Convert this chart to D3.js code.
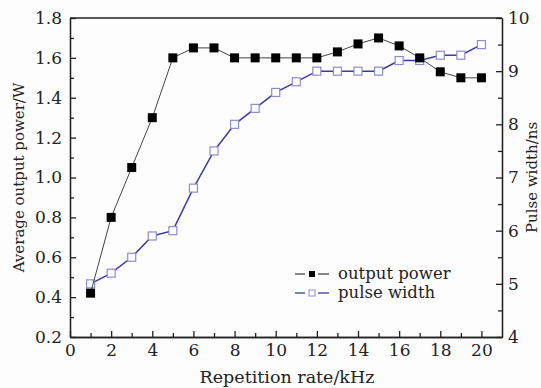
<!DOCTYPE html>
<html lang="en">

<head>
    <meta charset="UTF-8">
    <title>Repetition rate chart</title>
    <script src="https://d3js.org/d3.v7.min.js"></script>
    <style>
        body { margin: 0; background: #fdfdfd; }
        svg text { font-family: "DejaVu Serif", serif; fill: #222; }
        .axis path, .axis line { stroke: #222; stroke-width: 1.3; }
    </style>
</head>

<body>
    <svg id="chart" width="541" height="388"></svg>
    <script>
        // data
        const rate = [1, 2, 3, 4, 5, 6, 7, 8, 9, 10, 11, 12, 13, 14, 15, 16, 17, 18, 19, 20];
        const power = [0.42, 0.80, 1.05, 1.30, 1.60, 1.65, 1.65, 1.60, 1.60, 1.60, 1.60, 1.60, 1.63, 1.67, 1.70, 1.66, 1.60, 1.53, 1.50, 1.50];
        const width = [5.0, 5.2, 5.5, 5.9, 6.0, 6.8, 7.5, 8.0, 8.3, 8.6, 8.8, 9.0, 9.0, 9.0, 9.0, 9.2, 9.2, 9.3, 9.3, 9.5];
        const xTicks = [0, 2, 4, 6, 8, 10, 12, 14, 16, 18, 20];
        const leftTicks = [0.2, 0.4, 0.6, 0.8, 1.0, 1.2, 1.4, 1.6, 1.8];
        const rightTicks = [4, 5, 6, 7, 8, 9, 10];

        const svg = d3.select("#chart");
        const m = { left: 70, right: 502, top: 18, bottom: 337 };

        const x = d3.scaleLinear().domain([0, 21]).range([m.left, m.right]);
        const yL = d3.scaleLinear().domain([0.2, 1.8]).range([m.bottom, m.top]);
        const yR = d3.scaleLinear().domain([4, 10]).range([m.bottom, m.top]);

        // minor ticks first, then the main axes
        svg.append("g").attr("class", "axis").attr("transform", `translate(0,${m.bottom})`)
            .call(d3.axisBottom(x).tickValues(d3.range(1, 21, 2)).tickSize(-4).tickSizeOuter(0).tickFormat(""));
        svg.append("g").attr("class", "axis").attr("transform", `translate(${m.left},0)`)
            .call(d3.axisLeft(yL).tickValues(d3.range(0.3, 1.8, 0.2)).tickSize(-4).tickSizeOuter(0).tickFormat(""));
        svg.append("g").attr("class", "axis").attr("transform", `translate(${m.right},0)`)
            .call(d3.axisRight(yR).tickValues(d3.range(4.5, 10, 1)).tickSize(-4).tickSizeOuter(0).tickFormat(""));

        svg.append("g").attr("class", "axis").attr("transform", `translate(0,${m.bottom})`)
            .call(d3.axisBottom(x).tickValues(xTicks).tickSize(-6).tickSizeOuter(0).tickPadding(7));
        svg.append("g").attr("class", "axis").attr("transform", `translate(${m.left},0)`)
            .call(d3.axisLeft(yL).tickValues(leftTicks).tickSize(-6).tickSizeOuter(0).tickPadding(8).tickFormat(d3.format(".1f")));
        svg.append("g").attr("class", "axis").attr("transform", `translate(${m.right},0)`)
            .call(d3.axisRight(yR).tickValues(rightTicks).tickSize(-6).tickSizeOuter(0).tickPadding(6).tickFormat(d3.format("d")));
        svg.selectAll(".axis text").attr("font-size", 17).attr("font-family", null);

        // top border
        svg.append("line")
            .attr("x1", m.left).attr("x2", m.right)
            .attr("y1", m.top).attr("y2", m.top)
            .attr("stroke", "#222").attr("stroke-width", 1.3);

        // pulse width series (right axis)
        svg.append("path")
            .datum(rate)
            .attr("fill", "none")
            .attr("stroke", "#3b3b9c")
            .attr("stroke-width", 1.5)
            .attr("d", d3.line().x(d => x(d)).y((d, i) => yR(width[i])));

        svg.selectAll(".pw")
            .data(rate)
            .enter().append("rect")
            .attr("class", "pw")
            .attr("x", d => x(d) - 4)
            .attr("y", (d, i) => yR(width[i]) - 4)
            .attr("width", 8).attr("height", 8)
            .attr("fill", "#fff")
            .attr("stroke", "#8c8cd0")
            .attr("stroke-width", 1.2);

        // output power series (left axis)
        svg.append("path")
            .datum(rate)
            .attr("fill", "none")
            .attr("stroke", "#444")
            .attr("stroke-width", 1)
            .attr("d", d3.line().x(d => x(d)).y((d, i) => yL(power[i])));

        svg.selectAll(".op")
            .data(rate)
            .enter().append("rect")
            .attr("class", "op")
            .attr("x", d => x(d) - 4.5)
            .attr("y", (d, i) => yL(power[i]) - 4.5)
            .attr("width", 9).attr("height", 9)
            .attr("fill", "#000");

        // legend
        const legend = [
            { name: "output power", line: "#444", fill: "#000", stroke: "none", y: 274 },
            { name: "pulse width", line: "#3b3b9c", fill: "#fff", stroke: "#8c8cd0", y: 293 }
        ];
        const lg = svg.selectAll(".legend")
            .data(legend)
            .enter().append("g")
            .attr("class", "legend");
        lg.append("line")
            .attr("x1", 295).attr("x2", 305).attr("y1", d => d.y).attr("y2", d => d.y)
            .attr("stroke", d => d.line).attr("stroke-width", 1.3);
        lg.append("line")
            .attr("x1", 318).attr("x2", 329).attr("y1", d => d.y).attr("y2", d => d.y)
            .attr("stroke", d => d.line).attr("stroke-width", 1.3);
        lg.append("rect")
            .attr("x", 309).attr("y", d => d.y - 3).attr("width", 6).attr("height", 6)
            .attr("fill", d => d.fill).attr("stroke", d => d.stroke);
        lg.append("text")
            .attr("x", 338).attr("y", d => d.y)
            .attr("dy", "0.32em")
            .attr("font-size", 16.5)
            .text(d => d.name);

        // axis titles
        svg.append("text")
            .attr("x", 287).attr("y", 383)
            .attr("text-anchor", "middle")
            .attr("font-size", 17.5)
            .text("Repetition rate/kHz");
        svg.append("text")
            .attr("transform", `translate(24,${(m.top + m.bottom) / 2}) rotate(-90)`)
            .attr("text-anchor", "middle")
            .attr("font-size", 15)
            .text("Average output power/W");
        svg.append("text")
            .attr("transform", `translate(537,${(m.top + m.bottom) / 2}) rotate(-90)`)
            .attr("text-anchor", "middle")
            .attr("font-size", 15)
            .text("Pulse width/ns");
    </script>
</body>

</html>
